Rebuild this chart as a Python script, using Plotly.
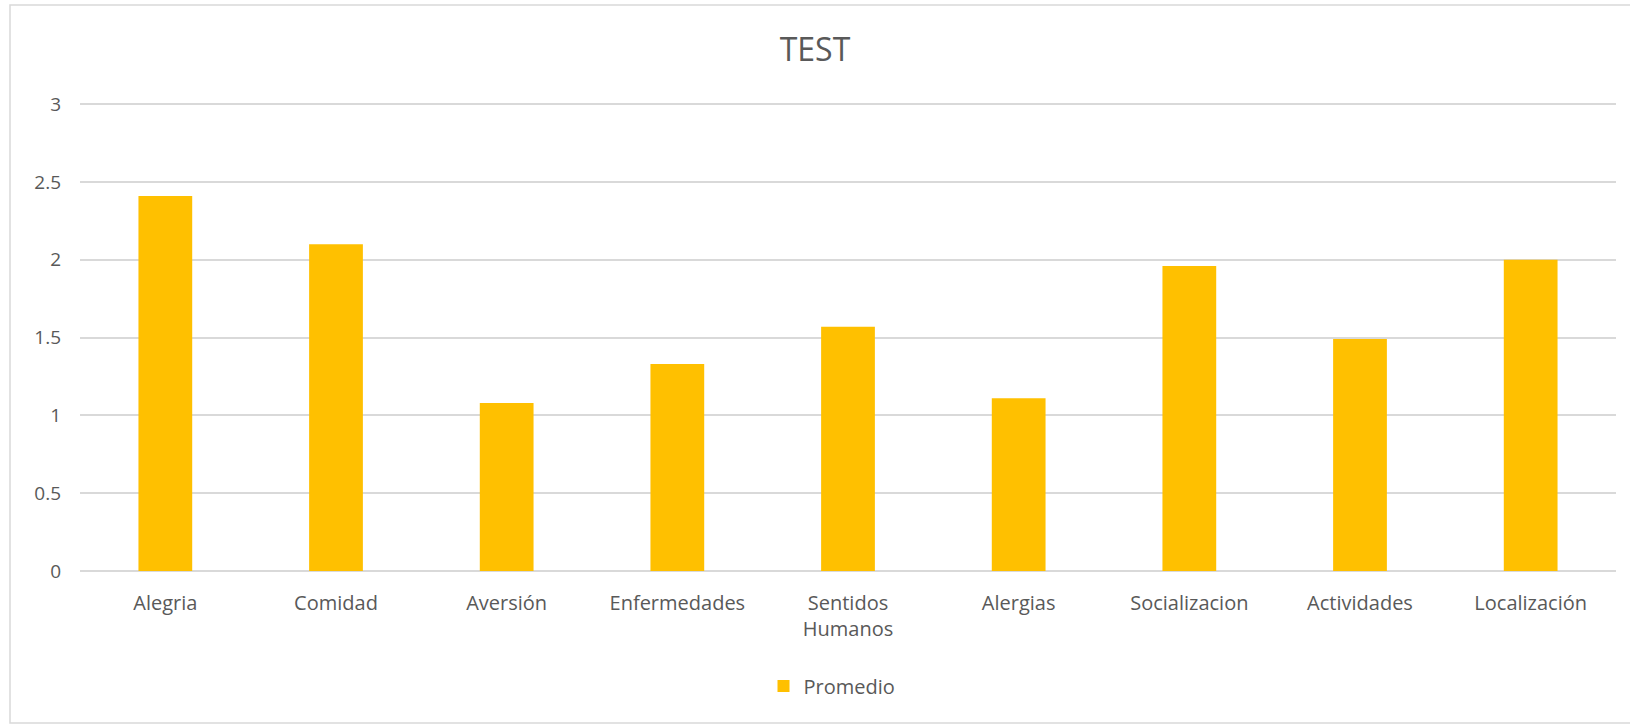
import plotly.graph_objects as go

categories = ["Alegria", "Comidad", "Aversión", "Enfermedades", "Sentidos<br>Humanos",
              "Alergias", "Socializacion", "Actividades", "Localización"]
promedio = [2.41, 2.10, 1.08, 1.33, 1.57, 1.11, 1.96, 1.49, 2.00]
y_ticks = [0, 0.5, 1, 1.5, 2, 2.5, 3]
y_tick_labels = ["0", "0.5", "1", "1.5", "2", "2.5", "3"]

W, H = 1630, 725
ml, mr, mt, mb = 80, 14, 101, 154
pw, ph = W - ml - mr, H - mt - mb

FONT = "Open Sans"
TXT = "#595959"
GRID = "#D9D9D9"

fig = go.Figure()
fig.add_trace(go.Bar(x=categories, y=promedio, name="Promedio",
                     marker=dict(color="#FFC000", line=dict(width=0))))

def px_x(x):
    return (x - ml) / pw

def px_y(y):
    return (H - mb - y) / ph

fig.update_layout(
    width=W, height=H,
    margin=dict(l=ml, r=mr, t=mt, b=mb),
    paper_bgcolor="white", plot_bgcolor="white",
    font=dict(family=FONT, color=TXT),
    title=dict(text="TEST", x=0.5, xanchor="center", y=1 - 50 / H, yanchor="middle",
               font=dict(size=32, color=TXT, family=FONT)),
    bargap=0.685,
    showlegend=True,
    legend=dict(orientation="h", x=0.5 - 16 / pw, xanchor="center", y=px_y(686), yanchor="middle",
                font=dict(size=20, color=TXT), bgcolor="rgba(0,0,0,0)"),
    xaxis=dict(showgrid=False, showline=False, zeroline=False, ticks="",
               tickfont=dict(size=20, color=TXT), ticklabelstandoff=18),
    yaxis=dict(range=[0, 3.02], tickvals=y_ticks, ticktext=y_tick_labels,
               showgrid=True, gridcolor=GRID, gridwidth=1.5, zeroline=True,
               zerolinecolor=GRID, zerolinewidth=1.5, showline=False, ticks="",
               tickfont=dict(size=19, color=TXT), ticklabelstandoff=18),
    shapes=[dict(type="rect", xref="paper", yref="paper",
                 x0=px_x(10), x1=px_x(1700), y0=px_y(723), y1=px_y(5),
                 line=dict(color=GRID, width=1.5), fillcolor="rgba(0,0,0,0)", layer="below")],
)

fig.write_html("out.html")
